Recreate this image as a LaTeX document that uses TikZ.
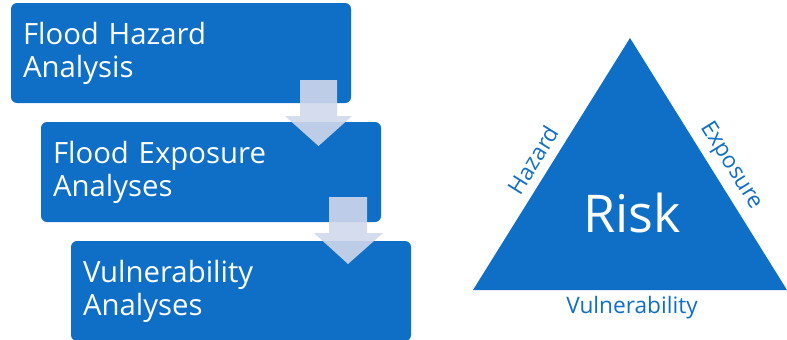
\documentclass[tikz,border=0pt]{standalone}
\usepackage{fontspec}
\setmainfont{Open Sans}
\usetikzlibrary{positioning}
\definecolor{riskblue}{HTML}{0F6FC6}
\definecolor{flowtint}{RGB}{208,216,236}

\begin{document}
\begin{tikzpicture}[x=0.75pt,y=-0.75pt,
		stage/.style={fill=riskblue,rounded corners=4.5pt,minimum width=255pt,minimum height=75pt,text width=237pt,inner xsep=9pt,inner ysep=0pt,align=left,text=white,font=\fontsize{22}{24.75}\selectfont},
		flow/.style={fill=flowtint,fill opacity=0.9},
		side/.style={text=riskblue,inner sep=0pt,font=\fontsize{17}{20}\selectfont}]
	\useasboundingbox (0,0) rectangle (787,339);
	\clip (0,0) rectangle (787,339);

	\node[stage] (hazard)   at (181,53)  {Flood Hazard\\Analysis};
	\node[stage] (exposure) at (211,172) {Flood Exposure\\Analyses};
	\node[stage] (vuln)     at (241,291) {Vulnerability\\Analyses};

	\fill[flow] (300,80) -- (337,80) -- (337,116) -- (352,116) -- (318.5,146) -- (285,116) -- (300,116) -- cycle;
	\fill[flow] (329,197) -- (367,197) -- (367,233) -- (383,233) -- (348,264) -- (314,233) -- (329,233) -- cycle;

	\coordinate (tl) at (473,290);
	\coordinate (tt) at (630,38);
	\coordinate (tr) at (787,290);
	\fill[riskblue] (tl) -- (tt) -- (tr) -- cycle;

	\node[text=white,inner sep=0pt,font=\fontsize{39}{46}\selectfont,anchor=base] (risk) at (632,232) {Risk};
	\node[side,rotate=58]  (hz)  at (533,160) {Hazard};
	\node[side,rotate=-58] (ex)  at (731,166) {Exposure};
	\node[side,anchor=base] (vl) at (632,313) {Vulnerability};
\end{tikzpicture}
\end{document}
